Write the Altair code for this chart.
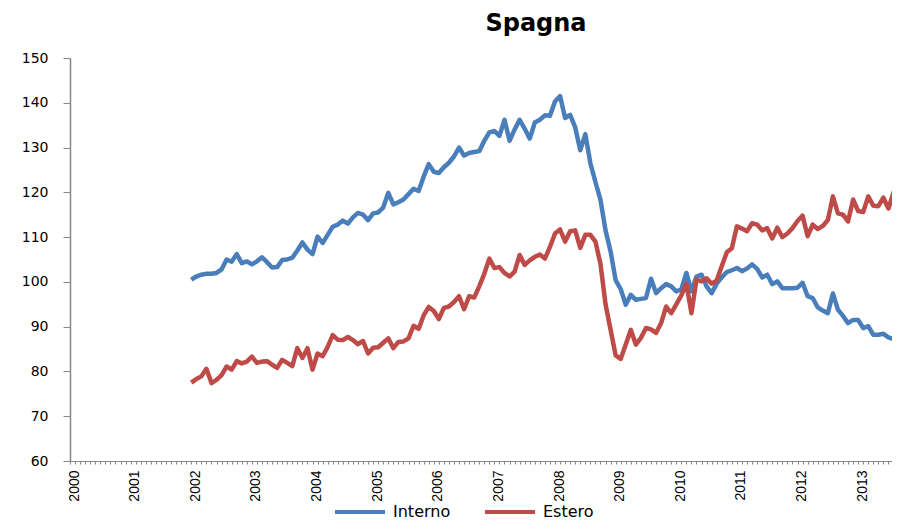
import altair as alt
import pandas as pd

# Month index: 0 = Jan 2000; series start at Jan 2002 (index 24)
start_index = 24
years = list(range(2000, 2014))
series_names = ["Interno", "Estero"]
series_colors = ["#4A7EBB", "#BE4B48"]

interno_2002 = [100.5, 101.2, 101.6, 101.8, 101.8, 102.0, 102.8, 105.0, 104.5, 106.2, 104.2, 104.6]
interno_2003 = [103.9, 104.6, 105.5, 104.4, 103.2, 103.3, 104.9, 105.0, 105.4, 107.0, 108.8, 107.2]
interno_2004 = [106.2, 110.1, 108.7, 110.5, 112.3, 112.8, 113.7, 113.0, 114.4, 115.4, 115.0, 113.8]
interno_2005 = [115.3, 115.5, 116.6, 119.9, 117.3, 117.8, 118.4, 119.6, 120.8, 120.3, 123.5, 126.3]
interno_2006 = [124.6, 124.3, 125.6, 126.6, 128.0, 130.0, 128.2, 128.8, 129.0, 129.2, 131.5, 133.4]
interno_2007 = [133.7, 132.6, 136.2, 131.5, 134.0, 136.2, 134.2, 132.0, 135.6, 136.2, 137.2, 137.1]
interno_2008 = [140.3, 141.5, 136.6, 137.3, 134.5, 129.4, 133.0, 126.5, 122.3, 118.3, 111.5, 106.8]
interno_2009 = [100.4, 98.4, 94.9, 97.1, 96.0, 96.2, 96.4, 100.7, 97.5, 98.6, 99.5, 99.0]
interno_2010 = [97.9, 98.3, 102.0, 97.9, 101.2, 101.6, 99.0, 97.5, 99.6, 101.0, 102.2, 102.6]
interno_2011 = [103.1, 102.4, 103.0, 103.9, 102.9, 101.0, 101.6, 99.5, 100.1, 98.6, 98.6, 98.6]
interno_2012 = [98.7, 99.8, 96.8, 96.4, 94.3, 93.6, 93.0, 97.4, 93.8, 92.4, 90.8, 91.5]
interno_2013 = [91.5, 89.7, 90.1, 88.2, 88.2, 88.4, 87.6, 87.2, 86.0]

estero_2002 = [77.5, 78.3, 78.9, 80.6, 77.4, 78.1, 79.2, 81.1, 80.4, 82.3, 81.8, 82.2]
estero_2003 = [83.3, 81.9, 82.2, 82.3, 81.5, 80.8, 82.6, 81.9, 81.2, 85.2, 83.0, 85.2]
estero_2004 = [80.4, 84.0, 83.4, 85.5, 88.1, 87.1, 87.0, 87.7, 87.0, 86.1, 86.8, 84.0]
estero_2005 = [85.3, 85.4, 86.4, 87.4, 85.2, 86.6, 86.7, 87.4, 90.2, 89.5, 92.5, 94.4]
estero_2006 = [93.5, 91.7, 94.2, 94.5, 95.5, 96.8, 93.9, 96.8, 96.5, 99.0, 101.8, 105.2]
estero_2007 = [103.1, 103.3, 102.0, 101.2, 102.3, 106.0, 103.8, 104.8, 105.6, 106.1, 105.2, 107.8]
estero_2008 = [110.8, 111.7, 109.0, 111.3, 111.5, 107.6, 110.5, 110.5, 109.0, 104.0, 95.0, 89.3]
estero_2009 = [83.6, 82.8, 86.0, 89.3, 86.0, 87.5, 89.7, 89.4, 88.6, 90.8, 94.5, 93.0]
estero_2010 = [95.0, 97.0, 99.6, 93.0, 100.5, 100.1, 100.8, 99.6, 100.3, 103.5, 106.6, 107.5]
estero_2011 = [112.4, 111.9, 111.3, 113.1, 112.8, 111.5, 112.0, 109.7, 112.1, 110.0, 110.8, 112.0]
estero_2012 = [113.6, 114.8, 110.2, 112.8, 111.8, 112.5, 113.8, 119.1, 115.3, 115.0, 113.5, 118.4]
estero_2013 = [115.8, 115.6, 119.1, 117.0, 116.9, 118.8, 116.4, 120.0, 119.3]

interno = (interno_2002 + interno_2003 + interno_2004 + interno_2005 + interno_2006 +
           interno_2007 + interno_2008 + interno_2009 + interno_2010 + interno_2011 +
           interno_2012 + interno_2013)
estero = (estero_2002 + estero_2003 + estero_2004 + estero_2005 + estero_2006 +
          estero_2007 + estero_2008 + estero_2009 + estero_2010 + estero_2011 +
          estero_2012 + estero_2013)

rows = []
for name, vals in zip(series_names, [interno, estero]):
    for i, v in enumerate(vals):
        rows.append({"m": start_index + i, "v": v, "serie": name})
df = pd.DataFrame(rows)

x_max = 162.7
tick_values = list(range(0, 163))

chart = alt.Chart(df).mark_line(strokeWidth=4.5, clip=True, strokeJoin="round").encode(
    x=alt.X("m:Q",
            scale=alt.Scale(domain=[0, x_max], nice=False, zero=False),
            axis=alt.Axis(values=tick_values,
                          labelExpr="datum.value % 12 == 0 ? toString(2000 + datum.value / 12) : ''",
                          labelAngle=270, labelOverlap=False, labelBound=False, labelFlush=False,
                          labelOffset=4, labelPadding=6,
                          tickSize=3, tickColor="#868686", domainColor="#868686",
                          labelFont="Liberation Sans Narrow, Liberation Sans",
                          labelFontSize=14, labelColor="#000000",
                          grid=False, title=None)),
    y=alt.Y("v:Q",
            scale=alt.Scale(domain=[60, 150], nice=False, zero=False),
            axis=alt.Axis(values=list(range(60, 151, 10)), tickSize=7, tickColor="#868686",
                          domainColor="#868686", domainWidth=1.5, labelPadding=15,
                          labelFont="DejaVu Sans", labelFontSize=14, labelColor="#000000",
                          grid=False, title=None)),
    color=alt.Color("serie:N",
                    scale=alt.Scale(domain=series_names, range=series_colors),
                    legend=alt.Legend(title=None, orient="none", direction="horizontal",
                                      legendX=263, legendY=427,
                                      symbolType="stroke", symbolSize=2500,
                                      symbolStrokeWidth=4, labelFont="DejaVu Sans",
                                      labelFontSize=16, labelOffset=6, columnPadding=26,
                                      labelColor="#000000")),
    order="m:Q",
).properties(
    width=822,
    height=403,
    padding={"left": 62, "top": 50, "right": 0, "bottom": 60},
    autosize=alt.AutoSizeParams(type="none"),
    title=alt.TitleParams("Spagna", font="DejaVu Sans", fontSize=24, fontWeight="bold",
                          anchor="middle", frame="group", dx=55, offset=15, color="#000000"),
).configure_view(stroke=None)

chart.save("out.html", embed_options={"renderer": "svg", "actions": False})
